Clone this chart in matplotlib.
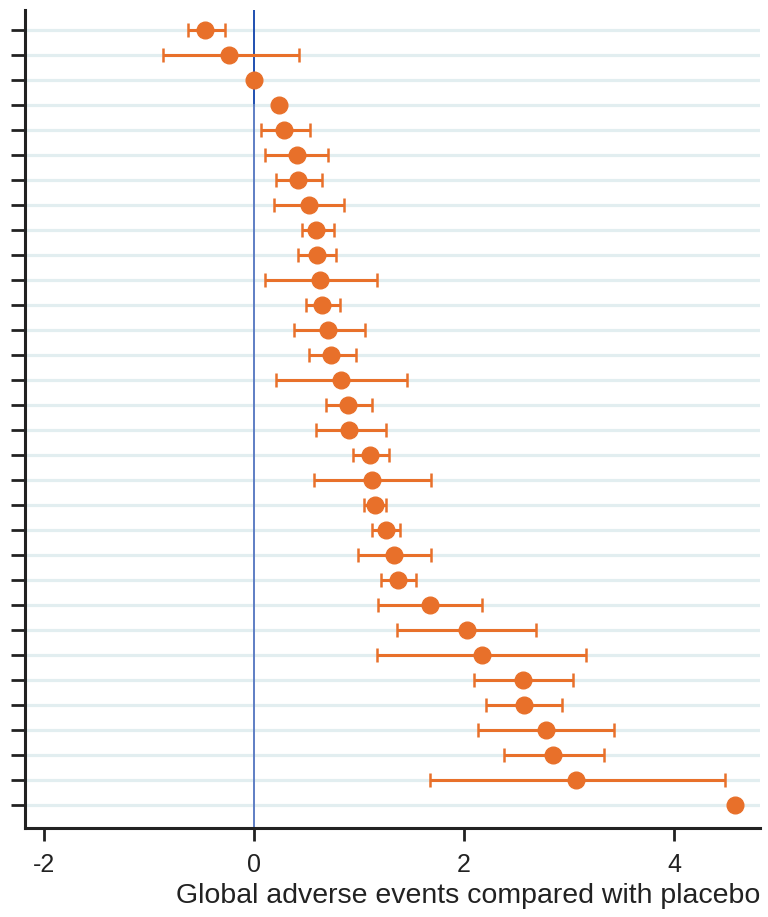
import matplotlib.pyplot as plt

# Effect estimates (difference vs placebo) with lower / upper confidence limits, one row per study
estimate = [-0.47, -0.24, 0.00, 0.24, 0.29, 0.41, 0.42, 0.52, 0.59, 0.60,
            0.63, 0.65, 0.71, 0.73, 0.83, 0.90, 0.91, 1.11, 1.12, 1.15,
            1.26, 1.33, 1.37, 1.68, 2.03, 2.17, 2.56, 2.57, 2.78, 2.85,
            3.07, 4.58]
lower = [-0.63, -0.87, None, None, 0.07, 0.11, 0.21, 0.19, 0.46, 0.42,
         0.11, 0.50, 0.38, 0.52, 0.21, 0.69, 0.59, 0.94, 0.57, 1.05,
         1.12, 0.99, 1.21, 1.18, 1.36, 1.17, 2.10, 2.21, 2.13, 2.38,
         1.68, None]
upper = [-0.28, 0.43, None, None, 0.53, 0.71, 0.65, 0.86, 0.76, 0.78,
         1.17, 0.82, 1.06, 0.97, 1.46, 1.12, 1.26, 1.29, 1.69, 1.26,
         1.39, 1.69, 1.54, 2.17, 2.69, 3.16, 3.04, 2.93, 3.43, 3.33,
         4.49, None]
rows = list(range(len(estimate)))
xticks = [-2, 0, 2, 4]
xticklabels = ['-2', '0', '2', '4']

orange = '#e8702a'

fig = plt.figure(figsize=(7.68, 9.17), dpi=100)
ax = fig.add_axes([25 / 768, 89 / 917, 735 / 768, 818 / 917])

for y in rows:
    ax.axhline(y, color='#e2eef0', lw=2.3, zorder=0)

# reference line at zero
ax.plot([0, 0], [-0.8, 3], color='#1f4fb0', lw=1.4, zorder=1)
ax.plot([0, 0], [3, 31.92], color='#5e7ec4', lw=1.4, zorder=1)

for y, est, lo, hi in zip(rows, estimate, lower, upper):
    if lo is None:
        ax.plot(est, y, 'o', color=orange, ms=12, zorder=3)
    else:
        ax.errorbar(est, y, xerr=[[est - lo], [hi - est]], fmt='o', color=orange,
                    ms=12, elinewidth=2.2, capsize=5, capthick=1.8, zorder=3)

ax.set_xlim(-2.18, 4.82)
ax.set_ylim(31.92, -0.8)
ax.set_yticks(rows)
ax.set_yticklabels([])
ax.set_xticks(xticks)
ax.set_xticklabels(xticklabels, fontsize=18, family='Liberation Sans', color='#222222')
ax.tick_params(axis='y', length=10, width=2, color='#222222')
ax.tick_params(axis='x', length=9, width=2, color='#222222', pad=9)

for side in ['top', 'right']:
    ax.spines[side].set_visible(False)
for side in ['left', 'bottom']:
    ax.spines[side].set_linewidth(2.2)
    ax.spines[side].set_color('#222222')

ax.set_xlabel('Global adverse events compared with placebo', fontsize=20.5,
              family='Liberation Sans', loc='right', labelpad=4, color='#222222')

plt.savefig('out.png', dpi=100)
